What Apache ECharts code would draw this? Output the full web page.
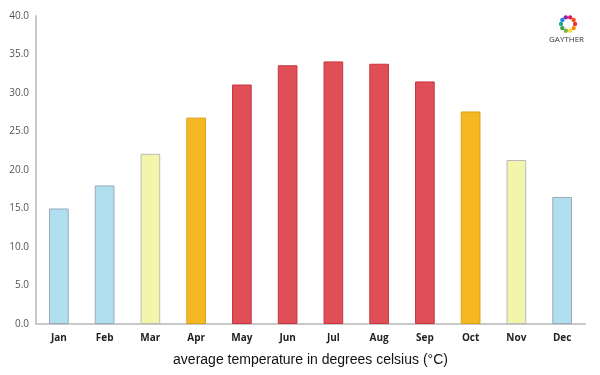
<!DOCTYPE html>
<html>
<head>
<meta charset="utf-8">
<script src="https://cdn.jsdelivr.net/npm/echarts@6/dist/echarts.min.js"></script>
<style>
  html, body { margin: 0; padding: 0; background: #fff; }
  #chart { width: 600px; height: 375px; }
</style>
</head>
<body>
<div id="chart"></div>
<script>
const months = ["Jan", "Feb", "Mar", "Apr", "May", "Jun", "Jul", "Aug", "Sep", "Oct", "Nov", "Dec"];
const temps = [15.0, 18.0, 22.1, 26.8, 31.1, 33.6, 34.1, 33.8, 31.5, 27.6, 21.3, 16.5];
const barColors = ["#b0dff0", "#b0dff0", "#f3f5ab", "#f5b822", "#e04e57", "#e04e57", "#e04e57", "#e04e57", "#e04e57", "#f5b822", "#f3f5ab", "#b0dff0"];
const borderColors = ["#9ab", "#9ab", "#bbb", "#d9a015", "#c9353f", "#c9353f", "#c9353f", "#c9353f", "#c9353f", "#d9a015", "#bbb", "#9ab"];
const logoColors = ["#e53935", "#fb8c00", "#fdd835", "#7cb342", "#43a047", "#26a69a", "#1e88e5", "#8e24aa", "#d81b60", "#f4511e"];

const chart = echarts.init(document.getElementById("chart"));

// small logo ring in top right
const logoDots = logoColors.map((c, i) => {
    const a = (i / logoColors.length) * Math.PI * 2;
    return {
        type: "circle",
        shape: { cx: 568 + Math.cos(a) * 7, cy: 24 + Math.sin(a) * 7, r: 2.2 },
        style: { fill: c }
    };
});

chart.setOption({
    animation: false,
    grid: { left: 36, right: 15, top: 16, bottom: 51 },
    xAxis: {
        type: "category",
        data: months,
        name: "average temperature in degrees celsius (°C)",
        nameLocation: "middle",
        nameGap: 29,
        nameTextStyle: { color: "#111", fontSize: 14, fontFamily: "Liberation Sans" },
        axisLine: { lineStyle: { color: "#c8c8c8", width: 2 } },
        axisTick: { show: false },
        axisLabel: { color: "#222", fontSize: 10, fontWeight: "bold", fontFamily: "Open Sans", margin: 9 }
    },
    yAxis: {
        type: "value",
        min: 0,
        max: 40,
        interval: 5,
        axisLine: { show: true, lineStyle: { color: "#c8c8c8", width: 2 } },
        axisTick: { show: false },
        splitLine: { show: false },
        axisLabel: {
            color: "#555",
            fontSize: 10,
            fontFamily: "Open Sans",
            margin: 7,
            formatter: v => v.toFixed(1)
        }
    },
    series: [
        {
            type: "bar",
            barWidth: "43%",
            data: temps.map((v, i) => ({
                value: v,
                itemStyle: { color: barColors[i], borderColor: borderColors[i], borderWidth: 1 }
            }))
        }
    ],
    graphic: logoDots.concat([
        {
            type: "text",
            left: 549,
            top: 36,
            style: { text: "GAYTHER", fill: "#333", fontSize: 8, fontFamily: "Open Sans" }
        }
    ])
});
</script>
</body>
</html>
